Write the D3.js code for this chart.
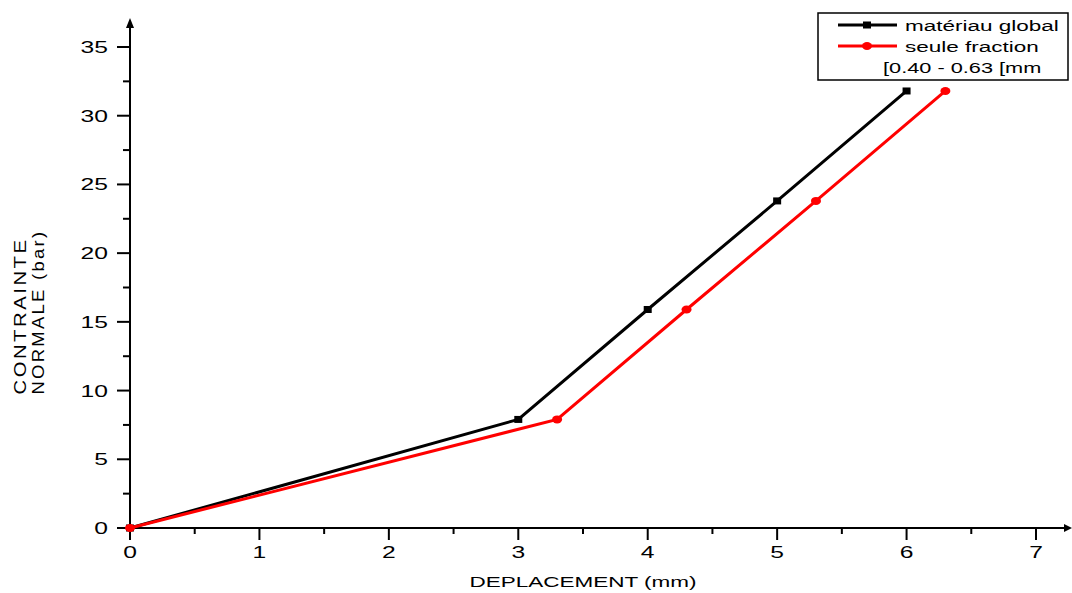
<!DOCTYPE html>
<html><head><meta charset="utf-8">
<script src="https://cdn.jsdelivr.net/npm/d3@7"></script>
<style>body{margin:0;background:#fff}svg{display:block}text{font-family:"Liberation Sans",Arial,sans-serif;fill:#000}</style>
</head><body><svg id="c" width="1072" height="593"></svg>
<script>
const xBlack = [0, 3, 4, 5, 6];
const yBlack = [0, 7.9, 15.9, 23.8, 31.8];
const xRed = [0, 3.3, 4.3, 5.3, 6.3];
const yRed = [0, 7.9, 15.9, 23.8, 31.8];
const xTicks = [0, 1, 2, 3, 4, 5, 6, 7];
const yTicks = [0, 5, 10, 15, 20, 25, 30, 35];
const seriesNames = ["matériau global", "seule fraction"];
const legendExtra = "[0.40 - 0.63 [mm";
const xTitle = "DEPLACEMENT (mm)";
const yTitle = ["CONTRAINTE", "NORMALE (bar)"];

const svg = d3.select("#c");
const x = d3.scaleLinear().domain([0, 7]).range([130, 1036]);
const y = d3.scaleLinear().domain([0, 35]).range([528, 47]);

function txt(px, py, s, size, anchor, sx) {
  const g = svg.append("g").attr("transform", `translate(${px},${py}) scale(${sx},1)`);
  g.append("text").attr("font-size", size).attr("text-anchor", anchor || "start").text(s);
  return g;
}

// axes lines
svg.append("line").attr("x1", 130).attr("x2", 1066).attr("y1", 528).attr("y2", 528).attr("stroke", "#000").attr("stroke-width", 2);
svg.append("path").attr("d", "M1072,528 L1064,524 L1064,532 Z").attr("fill", "#000");
svg.append("line").attr("x1", 130).attr("x2", 130).attr("y1", 528).attr("y2", 26).attr("stroke", "#000").attr("stroke-width", 2);
svg.append("path").attr("d", "M130,18 L126,28 L134,28 Z").attr("fill", "#000");

// y ticks
const yMinor = d3.range(2.5, 35, 5);
yTicks.forEach(v => {
  svg.append("line").attr("x1", 117).attr("x2", 130).attr("y1", y(v)).attr("y2", y(v)).attr("stroke", "#000").attr("stroke-width", 2);
  txt(108, y(v) + 6, String(v), 17, "end", 1.45);
});
yMinor.forEach(v => svg.append("line").attr("x1", 123).attr("x2", 130).attr("y1", y(v)).attr("y2", y(v)).attr("stroke", "#000").attr("stroke-width", 2));
// x ticks
const xMinor = d3.range(0.5, 7.5, 1);
xTicks.forEach(v => {
  svg.append("line").attr("x1", x(v)).attr("x2", x(v)).attr("y1", 528).attr("y2", 540).attr("stroke", "#000").attr("stroke-width", 2);
  txt(x(v), 558, String(v), 17, "middle", 1.45);
});
xMinor.forEach(v => svg.append("line").attr("x1", x(v)).attr("x2", x(v)).attr("y1", 528).attr("y2", 534).attr("stroke", "#000").attr("stroke-width", 2));

// titles
svg.append("text").attr("x", 583).attr("y", 587).attr("font-size", 15.5).attr("text-anchor", "middle")
  .attr("textLength", 227).attr("lengthAdjust", "spacingAndGlyphs").text(xTitle);
svg.append("text").attr("transform", "translate(26,316) rotate(-90)").attr("font-size", 16).attr("text-anchor", "middle")
  .attr("letter-spacing", 2).attr("textLength", 157).attr("lengthAdjust", "spacingAndGlyphs").text(yTitle[0]);
svg.append("text").attr("transform", "translate(44,312) rotate(-90)").attr("font-size", 16).attr("text-anchor", "middle")
  .attr("letter-spacing", 2).attr("textLength", 165).attr("lengthAdjust", "spacingAndGlyphs").text(yTitle[1]);

// series
const line = d3.line().x(d => x(d[0])).y(d => y(d[1]));
const black = xBlack.map((v, i) => [v, yBlack[i]]);
const red = xRed.map((v, i) => [v, yRed[i]]);
svg.append("path").datum(black).attr("d", line).attr("fill", "none").attr("stroke", "#000").attr("stroke-width", 3);
svg.append("path").datum(red).attr("d", line).attr("fill", "none").attr("stroke", "#ff0000").attr("stroke-width", 3);
svg.selectAll(".sq").data(black).enter().append("rect").attr("x", d => x(d[0]) - 4).attr("y", d => y(d[1]) - 3.5).attr("width", 8).attr("height", 7).attr("fill", "#000");
svg.selectAll(".ci").data(red).enter().append("ellipse").attr("cx", d => x(d[0])).attr("cy", d => y(d[1])).attr("rx", 5).attr("ry", 4).attr("fill", "#ff0000");

// legend
svg.append("rect").attr("x", 818).attr("y", 13).attr("width", 250).attr("height", 67).attr("fill", "#fff").attr("stroke", "#000").attr("stroke-width", 1.5);
svg.append("line").attr("x1", 838).attr("x2", 897).attr("y1", 25).attr("y2", 25).attr("stroke", "#000").attr("stroke-width", 3);
svg.append("rect").attr("x", 863).attr("y", 21.5).attr("width", 8).attr("height", 7).attr("fill", "#000");
svg.append("line").attr("x1", 838).attr("x2", 897).attr("y1", 46).attr("y2", 46).attr("stroke", "#ff0000").attr("stroke-width", 3);
svg.append("ellipse").attr("cx", 867).attr("cy", 46).attr("rx", 5).attr("ry", 4).attr("fill", "#ff0000");
txt(905, 31, seriesNames[0], 15, "start", 1.5);
txt(905, 52, seriesNames[1], 15, "start", 1.5);
txt(883, 73, legendExtra, 15, "start", 1.45);
</script></body></html>
